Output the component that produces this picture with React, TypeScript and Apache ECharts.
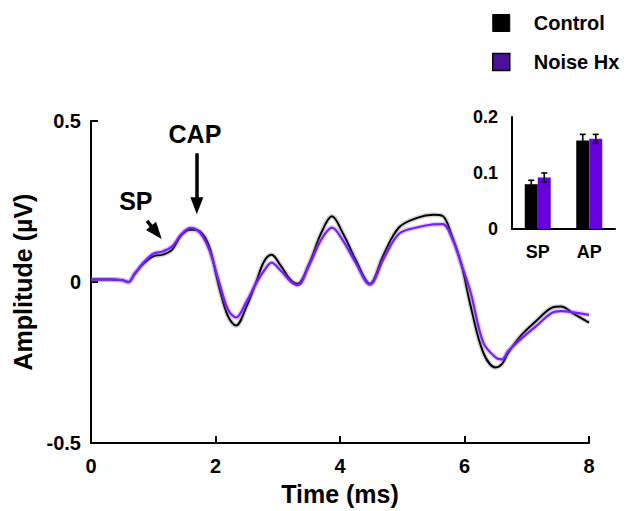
import React, { useEffect, useRef } from "react";
import * as echarts from "echarts";

const FONT = '"Liberation Sans", Arial, Helvetica, sans-serif';

// Main CAP waveform (time in ms, amplitude in µV)
const timeMs = [0, 0.3, 0.5, 0.6, 0.7, 0.85, 1.0, 1.15, 1.3, 1.45, 1.6, 1.75, 1.9, 2.05, 2.2, 2.33, 2.5, 2.65, 2.78, 2.9, 3.05, 3.2, 3.32, 3.5, 3.7, 3.87, 4.05, 4.25, 4.48, 4.7, 4.95, 5.25, 5.5, 5.65, 5.8, 5.95, 6.1, 6.3, 6.5, 6.6, 6.7, 6.9, 7.15, 7.4, 7.55, 7.75, 8.0];
const controlAmp = [0.008, 0.008, 0.006, 0.0, 0.025, 0.058, 0.08, 0.085, 0.1, 0.145, 0.162, 0.157, 0.11, -0.01, -0.106, -0.135, -0.075, -0.002, 0.064, 0.085, 0.05, 0.008, -0.005, 0.055, 0.153, 0.204, 0.15, 0.07, -0.005, 0.085, 0.17, 0.2, 0.209, 0.205, 0.142, 0.055, -0.075, -0.218, -0.265, -0.255, -0.22, -0.168, -0.121, -0.08, -0.076, -0.098, -0.126];
const noiseAmp = [0.008, 0.008, 0.006, 0.0, 0.025, 0.062, 0.088, 0.095, 0.11, 0.148, 0.168, 0.153, 0.1, 0.005, -0.085, -0.11, -0.06, -0.005, 0.035, 0.06, 0.035, 0.003, -0.01, 0.05, 0.132, 0.169, 0.128, 0.06, -0.008, 0.072, 0.15, 0.17, 0.179, 0.18, 0.137, 0.055, -0.033, -0.187, -0.234, -0.24, -0.215, -0.178, -0.137, -0.096, -0.09, -0.094, -0.102];

// Inset bar chart
const insetCategories = ["SP", "AP"];
const controlBar = [0.08, 0.158];
const noiseBar = [0.092, 0.161];
const controlErr = [0.007, 0.011];
const noiseErr = [0.008, 0.008];

const xTicks = { min: 0, max: 8, interval: 2 };
const yTicks = { min: -0.5, max: 0.5, interval: 0.5 };

const BLACK = "#000000";
const PURPLE_LINE = "#7a1ff5";
const PURPLE_BAR = "#6600dc";

export default function App() {
  const ref = useRef<HTMLDivElement>(null);

  useEffect(() => {
    if (!ref.current) return;
    const chart = echarts.init(ref.current, undefined, { renderer: "svg" });

    const ctrlData = timeMs.map((t, i) => [t, controlAmp[i]]);
    const noiseData = timeMs.map((t, i) => [t, noiseAmp[i]]);

    const errSeries = (name: string, vals: number[], errs: number[], offset: number) => ({
      type: "custom",
      name: name + " err",
      xAxisIndex: 1,
      yAxisIndex: 1,
      silent: true,
      z: 5,
      data: vals.map((v, i) => [i, v, errs[i]]),
      encode: { x: 0, y: 1 },
      renderItem: (params: any, api: any) => {
        const cat = api.value(0);
        const val = api.value(1);
        const err = api.value(2);
        const c = api.coord([cat, val]);
        const top = api.coord([cat, val + err]);
        const bot = api.coord([cat, val - err]);
        const x = c[0] + offset;
        const st = { stroke: "#000", lineWidth: 1.6 };
        return {
          type: "group",
          children: [
            { type: "line", shape: { x1: x, y1: top[1], x2: x, y2: bot[1] }, style: st },
            { type: "line", shape: { x1: x - 3, y1: top[1], x2: x + 3, y2: top[1] }, style: st },
            { type: "line", shape: { x1: x - 3, y1: bot[1], x2: x + 3, y2: bot[1] }, style: st },
          ],
        };
      },
    });

    const boldText = (size: number) => ({
      fontFamily: FONT,
      fontWeight: "bold",
      fontSize: size,
      color: "#000",
    });

    const arrowEnd = (coord: number[]) => ({
      coord,
      symbol: "triangle",
      symbolSize: [13, 17],
    });

    chart.setOption({
      animation: false,
      backgroundColor: "#fff",
      legend: {
        orient: "vertical",
        left: 487,
        top: 8,
        itemWidth: 17,
        itemHeight: 17,
        itemGap: 19,
        icon: "rect",
        selectedMode: false,
        textStyle: { ...boldText(20), padding: [0, 0, 0, 19] },
        data: [
          { name: "Control", itemStyle: { color: "#000", borderColor: "#000", borderWidth: 1 } },
          { name: "Noise Hx", itemStyle: { color: "#4a1298", borderColor: "#000", borderWidth: 1.5 } },
        ],
      },
      grid: [
        { left: 91, right: 35, top: 121, bottom: 67 },
        { left: 512, right: 9, top: 117, bottom: 282 },
      ],
      xAxis: [
        {
          type: "value",
          gridIndex: 0,
          min: xTicks.min,
          max: xTicks.max,
          interval: xTicks.interval,
          axisLine: { show: true, onZero: false, lineStyle: { color: "#000", width: 2 } },
          axisTick: { show: true, inside: true, length: 7, lineStyle: { color: "#000", width: 2 } },
          axisLabel: { ...boldText(20), margin: 13 },
          splitLine: { show: false },
          name: "Time (ms)",
          nameLocation: "middle",
          nameGap: 37,
          nameTextStyle: boldText(25),
        },
        {
          type: "category",
          gridIndex: 1,
          data: insetCategories,
          axisLine: { show: true, lineStyle: { color: "#000", width: 2 } },
          axisTick: { show: false },
          axisLabel: { ...boldText(18), margin: 14 },
          splitLine: { show: false },
        },
      ],
      yAxis: [
        {
          type: "value",
          gridIndex: 0,
          min: yTicks.min,
          max: yTicks.max,
          interval: yTicks.interval,
          axisLine: { show: true, onZero: false, lineStyle: { color: "#000", width: 2 } },
          axisTick: { show: true, inside: true, length: 7, lineStyle: { color: "#000", width: 2 } },
          axisLabel: { ...boldText(20), margin: 10 },
          splitLine: { show: false },
          name: "Amplitude (µV)",
          nameLocation: "middle",
          nameGap: 56,
          nameRotate: 90,
          nameTextStyle: boldText(25),
        },
        {
          type: "value",
          gridIndex: 1,
          min: 0,
          max: 0.2,
          interval: 0.1,
          axisLine: { show: true, lineStyle: { color: "#000", width: 2 } },
          axisTick: { show: false },
          axisLabel: { ...boldText(18), margin: 14 },
          splitLine: { show: false },
        },
      ],
      series: [
        {
          type: "bar",
          name: "Control",
          xAxisIndex: 1,
          yAxisIndex: 1,
          data: controlBar,
          barWidth: 13,
          barGap: "0%",
          itemStyle: { color: BLACK },
          silent: true,
        },
        {
          type: "bar",
          name: "Noise Hx",
          xAxisIndex: 1,
          yAxisIndex: 1,
          data: noiseBar,
          barWidth: 13,
          barGap: "0%",
          itemStyle: { color: PURPLE_BAR },
          silent: true,
        },
        errSeries("Control", controlBar, controlErr, -6.5),
        errSeries("Noise Hx", noiseBar, noiseErr, 6.5),
        {
          type: "line",
          name: "Control band",
          xAxisIndex: 0,
          yAxisIndex: 0,
          data: ctrlData,
          smooth: 0.35,
          showSymbol: false,
          silent: true,
          lineStyle: { color: "rgba(0,0,0,0.16)", width: 5 },
        },
        {
          type: "line",
          name: "Control line",
          xAxisIndex: 0,
          yAxisIndex: 0,
          data: ctrlData,
          smooth: 0.35,
          showSymbol: false,
          silent: true,
          lineStyle: { color: BLACK, width: 2 },
          markLine: {
            silent: true,
            symbol: ["none", "triangle"],
            symbolSize: 16,
            label: { show: false },
            lineStyle: { color: "#000", width: 3.5, type: "solid" },
            itemStyle: { color: "#000" },
            data: [
              [{ coord: [1.7, 0.4], symbol: "none" }, arrowEnd([1.7, 0.237])],
              [{ coord: [0.9, 0.19], symbol: "none" }, arrowEnd([1.05, 0.154])],
            ],
          },
          markPoint: {
            silent: true,
            symbol: "circle",
            symbolSize: 1,
            itemStyle: { color: "rgba(0,0,0,0)" },
            label: { show: true, position: "inside", formatter: "{b}", ...boldText(25) },
            data: [
              { name: "CAP", coord: [1.67, 0.46] },
              { name: "SP", coord: [0.72, 0.252] },
            ],
          },
        },
        {
          type: "line",
          name: "Noise Hx band",
          xAxisIndex: 0,
          yAxisIndex: 0,
          data: noiseData,
          smooth: 0.35,
          showSymbol: false,
          silent: true,
          lineStyle: { color: "rgba(160,100,255,0.3)", width: 5 },
        },
        {
          type: "line",
          name: "Noise Hx line",
          xAxisIndex: 0,
          yAxisIndex: 0,
          data: noiseData,
          smooth: 0.35,
          showSymbol: false,
          silent: true,
          lineStyle: { color: PURPLE_LINE, width: 2.2 },
        },
      ],
    });

    return () => chart.dispose();
  }, []);

  return (
    <div
      ref={ref}
      style={{ position: "fixed", left: 0, top: 0, width: 624, height: 511 }}
    />
  );
}
